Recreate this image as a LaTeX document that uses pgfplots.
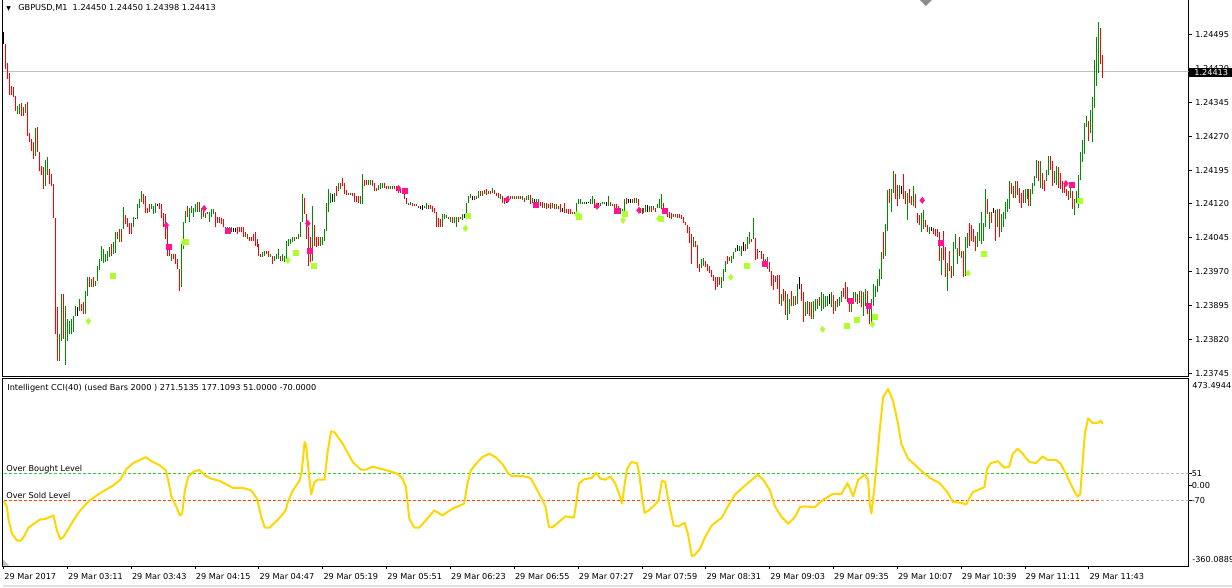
\documentclass[border=0pt]{standalone}
\usepackage{pgfplots}
\pgfplotsset{compat=1.18}
\usepackage{pgfplotstable}
\usepackage{fontspec}
\setmainfont{DejaVu Sans}
\definecolor{bargreen}{RGB}{0,140,0}
\definecolor{barred}{RGB}{255,0,0}
\definecolor{pinkm}{RGB}{255,20,147}
\definecolor{limem}{RGB}{173,255,47}
\definecolor{ccigold}{RGB}{255,215,0}
\definecolor{lvlgreen}{RGB}{50,205,50}
\definecolor{lvlred}{RGB}{255,69,0}
\definecolor{silverc}{RGB}{192,192,192}
\begin{document}
% minute bars (index = minutes after 02:39), low and high prices
\pgfplotstableread{
i lo hi
0 1.24474 1.24500
37 1.23872 1.23892
66 1.24086 1.24090
77 1.24115 1.24119
115 1.24059 1.24066
116 1.24059 1.24066
165 1.24125 1.24141
209 1.24108 1.24115
210 1.24106 1.24117
231 1.24090 1.24097
235 1.24128 1.24137
252 1.24123 1.24134
266 1.24119 1.24130
280 1.24103 1.24112
292 1.24121 1.24125
293 1.24123 1.24125
298 1.24115 1.24123
302 1.24115 1.24125
313 1.24123 1.24132
314 1.24123 1.24132
323 1.24103 1.24117
368 1.24015 1.24029
371 1.24017 1.24035
379 1.24013 1.24017
399 1.23931 1.23958
414 1.23898 1.23920
450 1.24141 1.24159
465 1.24061 1.24070
496 1.24101 1.24110
}\barsk
\pgfplotstableread{
i lo hi
7 1.24320 1.24337
8 1.24318 1.24340
11 1.24322 1.24340
16 1.24227 1.24289
21 1.24159 1.24218
22 1.24185 1.24223
28 1.23773 1.23832
29 1.23817 1.23920
31 1.23764 1.23894
32 1.23817 1.23865
33 1.23832 1.23861
34 1.23832 1.23865
35 1.23837 1.23872
36 1.23872 1.23894
38 1.23883 1.23909
41 1.23876 1.23927
42 1.23916 1.23958
44 1.23936 1.23954
46 1.23938 1.23949
47 1.23949 1.23982
48 1.23973 1.23998
49 1.23993 1.24028
50 1.23989 1.24020
51 1.23991 1.24009
52 1.23993 1.24015
53 1.24002 1.24024
55 1.24009 1.24035
56 1.24011 1.24059
58 1.24035 1.24064
60 1.24064 1.24114
65 1.24068 1.24092
67 1.24086 1.24119
68 1.24112 1.24130
69 1.24125 1.24148
74 1.24108 1.24119
75 1.24097 1.24115
76 1.24101 1.24123
84 1.23993 1.24009
89 1.23936 1.24031
90 1.24020 1.24081
91 1.24079 1.24104
93 1.24081 1.24112
94 1.24101 1.24115
95 1.24092 1.24112
96 1.24103 1.24119
97 1.24103 1.24125
99 1.24086 1.24112
101 1.24090 1.24101
103 1.24081 1.24103
104 1.24092 1.24108
105 1.24097 1.24108
113 1.24059 1.24068
114 1.24059 1.24070
122 1.24042 1.24053
130 1.24002 1.24013
131 1.24004 1.24015
134 1.24002 1.24009
136 1.23993 1.24004
137 1.23998 1.24009
138 1.23998 1.24020
140 1.23993 1.24009
141 1.23991 1.24004
142 1.23993 1.24037
143 1.24026 1.24042
144 1.24031 1.24042
145 1.24035 1.24046
146 1.24037 1.24048
148 1.24042 1.24053
149 1.24046 1.24081
150 1.24081 1.24141
155 1.23993 1.24115
159 1.24026 1.24048
160 1.24029 1.24048
161 1.24037 1.24064
162 1.24061 1.24123
163 1.24103 1.24154
164 1.24123 1.24145
166 1.24125 1.24145
168 1.24148 1.24167
173 1.24139 1.24145
179 1.24121 1.24137
180 1.24119 1.24187
183 1.24163 1.24174
184 1.24163 1.24174
188 1.24150 1.24163
189 1.24152 1.24167
190 1.24156 1.24167
193 1.24152 1.24159
194 1.24152 1.24159
196 1.24152 1.24159
203 1.24117 1.24123
204 1.24117 1.24125
207 1.24115 1.24119
211 1.24110 1.24115
212 1.24108 1.24123
220 1.24070 1.24097
221 1.24086 1.24097
222 1.24088 1.24095
224 1.24081 1.24092
226 1.24079 1.24092
227 1.24068 1.24092
229 1.24086 1.24092
230 1.24084 1.24097
232 1.24090 1.24123
233 1.24123 1.24137
234 1.24134 1.24141
237 1.24130 1.24137
238 1.24134 1.24148
240 1.24137 1.24148
243 1.24141 1.24148
245 1.24145 1.24156
249 1.24132 1.24141
253 1.24125 1.24137
255 1.24130 1.24137
257 1.24132 1.24137
260 1.24128 1.24137
262 1.24128 1.24137
263 1.24128 1.24139
265 1.24123 1.24134
267 1.24115 1.24130
271 1.24110 1.24123
275 1.24112 1.24123
277 1.24108 1.24119
286 1.24097 1.24103
287 1.24097 1.24123
288 1.24119 1.24130
289 1.24119 1.24130
290 1.24119 1.24125
291 1.24119 1.24125
294 1.24121 1.24130
295 1.24121 1.24137
299 1.24115 1.24123
300 1.24119 1.24125
301 1.24121 1.24125
303 1.24115 1.24137
305 1.24115 1.24121
309 1.24097 1.24112
310 1.24101 1.24108
311 1.24097 1.24130
315 1.24123 1.24130
317 1.24123 1.24134
321 1.24099 1.24110
322 1.24103 1.24117
324 1.24103 1.24115
326 1.24106 1.24115
328 1.24110 1.24119
329 1.24112 1.24130
330 1.24108 1.24141
337 1.24092 1.24097
346 1.24024 1.24048
350 1.23978 1.23998
351 1.23982 1.24000
360 1.23934 1.23958
361 1.23949 1.23976
362 1.23969 1.23993
365 1.23989 1.24004
366 1.23998 1.24013
367 1.24013 1.24022
369 1.24015 1.24026
370 1.24006 1.24026
373 1.24020 1.24046
374 1.24031 1.24057
376 1.24042 1.24090
383 1.23976 1.24002
390 1.23894 1.23920
393 1.23863 1.23920
394 1.23876 1.23909
396 1.23894 1.23916
398 1.23898 1.23942
402 1.23872 1.23903
403 1.23876 1.23905
406 1.23865 1.23905
407 1.23883 1.23909
408 1.23887 1.23909
410 1.23883 1.23925
411 1.23887 1.23920
412 1.23892 1.23916
413 1.23894 1.23916
415 1.23892 1.23925
417 1.23883 1.23905
419 1.23894 1.23914
420 1.23903 1.23927
425 1.23881 1.23905
426 1.23898 1.23925
427 1.23903 1.23925
429 1.23900 1.23927
431 1.23872 1.23925
432 1.23894 1.23931
435 1.23854 1.23909
436 1.23894 1.23942
437 1.23914 1.23938
438 1.23925 1.23953
439 1.23938 1.23976
440 1.23953 1.24013
442 1.24006 1.24075
443 1.24061 1.24152
445 1.24103 1.24152
446 1.24145 1.24192
449 1.24132 1.24161
453 1.24084 1.24145
456 1.24115 1.24159
460 1.24057 1.24099
461 1.24064 1.24106
464 1.24053 1.24068
470 1.23962 1.24022
473 1.23927 1.23989
476 1.23960 1.24035
477 1.24020 1.24053
478 1.23987 1.24022
480 1.24000 1.24017
482 1.23960 1.24048
483 1.24022 1.24055
488 1.24024 1.24059
489 1.24037 1.24077
490 1.24031 1.24103
491 1.24037 1.24077
492 1.24068 1.24152
494 1.24064 1.24103
498 1.24070 1.24108
500 1.24059 1.24097
501 1.24068 1.24103
502 1.24086 1.24125
503 1.24103 1.24130
504 1.24108 1.24170
507 1.24134 1.24170
512 1.24123 1.24154
513 1.24130 1.24154
515 1.24115 1.24154
516 1.24141 1.24167
517 1.24159 1.24181
518 1.24178 1.24218
520 1.24156 1.24214
523 1.24170 1.24196
524 1.24185 1.24225
527 1.24167 1.24192
528 1.24163 1.24205
535 1.24134 1.24156
537 1.24095 1.24130
538 1.24123 1.24148
539 1.24110 1.24183
540 1.24174 1.24234
541 1.24212 1.24262
542 1.24231 1.24300
543 1.24291 1.24315
545 1.24276 1.24328
546 1.24256 1.24357
547 1.24333 1.24439
548 1.24381 1.24490
549 1.24410 1.24523
}\barsg
\pgfplotstableread{
i lo hi
1 1.24419 1.24474
2 1.24397 1.24432
3 1.24362 1.24410
4 1.24362 1.24381
5 1.24357 1.24379
6 1.24326 1.24359
9 1.24315 1.24344
10 1.24315 1.24335
12 1.24271 1.24346
13 1.24256 1.24276
14 1.24238 1.24264
15 1.24220 1.24256
17 1.24234 1.24291
18 1.24192 1.24236
19 1.24185 1.24203
20 1.24152 1.24201
23 1.24165 1.24198
24 1.24159 1.24187
25 1.24088 1.24165
26 1.23832 1.24090
27 1.23773 1.23892
30 1.23821 1.23920
39 1.23883 1.23898
40 1.23876 1.23903
43 1.23936 1.23958
45 1.23936 1.23958
54 1.24004 1.24031
57 1.24042 1.24059
59 1.24035 1.24064
61 1.24075 1.24095
62 1.24068 1.24088
63 1.24053 1.24079
64 1.24053 1.24079
70 1.24119 1.24141
71 1.24101 1.24137
72 1.24101 1.24112
73 1.24103 1.24119
78 1.24108 1.24123
79 1.24090 1.24119
80 1.24070 1.24101
81 1.24042 1.24097
82 1.24004 1.24070
83 1.24004 1.24031
85 1.23998 1.24009
86 1.23987 1.24009
87 1.23976 1.23998
88 1.23927 1.23976
92 1.24092 1.24115
98 1.24103 1.24125
100 1.24092 1.24112
102 1.24097 1.24103
106 1.24068 1.24103
107 1.24079 1.24092
108 1.24079 1.24092
109 1.24075 1.24088
110 1.24070 1.24086
111 1.24057 1.24070
112 1.24057 1.24068
117 1.24053 1.24068
118 1.24057 1.24068
119 1.24057 1.24068
120 1.24048 1.24068
121 1.24046 1.24057
123 1.24037 1.24048
124 1.24037 1.24048
125 1.24037 1.24053
126 1.24026 1.24057
127 1.24024 1.24042
128 1.24004 1.24031
129 1.24002 1.24009
132 1.24009 1.24015
133 1.24002 1.24015
135 1.23987 1.24004
139 1.23993 1.24004
147 1.24042 1.24048
151 1.24097 1.24134
152 1.24042 1.24097
153 1.23982 1.24070
154 1.23991 1.24046
156 1.24026 1.24073
157 1.24024 1.24048
158 1.24026 1.24048
167 1.24137 1.24159
169 1.24152 1.24167
170 1.24159 1.24178
171 1.24141 1.24167
172 1.24139 1.24152
174 1.24139 1.24145
175 1.24137 1.24145
176 1.24125 1.24145
177 1.24125 1.24137
178 1.24123 1.24137
181 1.24159 1.24174
182 1.24163 1.24174
185 1.24159 1.24174
186 1.24148 1.24167
187 1.24148 1.24156
191 1.24156 1.24167
192 1.24152 1.24159
195 1.24152 1.24159
197 1.24148 1.24159
198 1.24145 1.24156
199 1.24145 1.24156
200 1.24145 1.24154
201 1.24130 1.24148
202 1.24119 1.24134
205 1.24115 1.24123
206 1.24115 1.24119
208 1.24110 1.24115
213 1.24108 1.24117
214 1.24108 1.24117
215 1.24103 1.24115
216 1.24099 1.24110
217 1.24070 1.24103
218 1.24070 1.24088
219 1.24070 1.24086
223 1.24086 1.24092
225 1.24079 1.24092
228 1.24081 1.24092
236 1.24128 1.24137
239 1.24137 1.24148
241 1.24141 1.24152
242 1.24139 1.24154
244 1.24141 1.24148
246 1.24141 1.24152
247 1.24137 1.24145
248 1.24134 1.24145
250 1.24123 1.24137
251 1.24121 1.24134
254 1.24130 1.24137
256 1.24130 1.24137
258 1.24130 1.24137
259 1.24130 1.24137
261 1.24125 1.24134
264 1.24119 1.24139
268 1.24115 1.24130
269 1.24115 1.24125
270 1.24112 1.24125
272 1.24108 1.24123
273 1.24110 1.24121
274 1.24108 1.24123
276 1.24108 1.24119
278 1.24108 1.24115
279 1.24103 1.24119
281 1.24101 1.24123
282 1.24099 1.24108
283 1.24097 1.24108
284 1.24097 1.24108
285 1.24097 1.24103
296 1.24112 1.24130
297 1.24115 1.24123
304 1.24115 1.24125
306 1.24112 1.24119
307 1.24110 1.24119
308 1.24101 1.24115
312 1.24119 1.24134
316 1.24123 1.24134
318 1.24115 1.24130
319 1.24101 1.24112
320 1.24097 1.24112
325 1.24103 1.24115
327 1.24103 1.24112
331 1.24097 1.24123
332 1.24101 1.24112
333 1.24092 1.24110
334 1.24090 1.24103
335 1.24086 1.24101
336 1.24092 1.24097
338 1.24090 1.24097
339 1.24090 1.24097
340 1.24086 1.24095
341 1.24079 1.24092
342 1.24073 1.24081
343 1.24055 1.24073
344 1.24033 1.24068
345 1.23987 1.24053
347 1.24024 1.24039
348 1.23978 1.24029
349 1.23969 1.23987
352 1.23980 1.23993
353 1.23971 1.23987
354 1.23967 1.23982
355 1.23958 1.23973
356 1.23949 1.23962
357 1.23929 1.23958
358 1.23936 1.23958
359 1.23940 1.23958
363 1.23987 1.24004
364 1.23993 1.24002
372 1.24015 1.24031
375 1.24035 1.24042
377 1.23995 1.24044
378 1.23998 1.24020
380 1.23998 1.24015
381 1.23991 1.24009
382 1.23980 1.23998
384 1.23969 1.23991
385 1.23938 1.23971
386 1.23929 1.23964
387 1.23947 1.23960
388 1.23931 1.23964
389 1.23898 1.23964
391 1.23905 1.23931
392 1.23874 1.23927
395 1.23894 1.23927
397 1.23896 1.23916
400 1.23905 1.23942
401 1.23859 1.23925
404 1.23872 1.23903
405 1.23865 1.23903
409 1.23894 1.23914
416 1.23876 1.23918
418 1.23892 1.23909
421 1.23914 1.23934
422 1.23909 1.23947
423 1.23903 1.23936
424 1.23881 1.23912
428 1.23898 1.23920
430 1.23892 1.23927
433 1.23876 1.23927
434 1.23854 1.23900
441 1.23998 1.24057
444 1.24123 1.24154
447 1.24130 1.24187
448 1.24115 1.24161
451 1.24132 1.24187
452 1.24119 1.24148
454 1.24123 1.24154
455 1.24117 1.24137
457 1.24110 1.24143
458 1.24079 1.24101
459 1.24073 1.24095
462 1.24070 1.24084
463 1.24057 1.24073
466 1.24053 1.24066
467 1.24050 1.24064
468 1.24048 1.24064
469 1.23993 1.24057
471 1.23995 1.24061
472 1.23958 1.24024
474 1.23971 1.24017
475 1.23956 1.23982
479 1.24004 1.24048
481 1.23958 1.24017
484 1.24026 1.24077
485 1.24039 1.24073
486 1.24035 1.24064
487 1.24015 1.24050
493 1.24097 1.24130
495 1.24079 1.24103
497 1.24039 1.24106
499 1.24046 1.24108
505 1.24141 1.24167
506 1.24134 1.24159
508 1.24139 1.24170
509 1.24123 1.24156
510 1.24112 1.24145
511 1.24123 1.24152
514 1.24115 1.24154
519 1.24170 1.24214
521 1.24152 1.24189
522 1.24148 1.24174
525 1.24196 1.24225
526 1.24159 1.24214
529 1.24156 1.24201
530 1.24152 1.24189
531 1.24145 1.24170
532 1.24145 1.24163
533 1.24137 1.24152
534 1.24128 1.24148
536 1.24108 1.24148
544 1.24260 1.24304
550 1.24430 1.24509
551 1.24398 1.24450
}\barsr
\pgfplotstableread{
m v
0 -71
1.65 -98
2.5 -157
4.15 -216
6.65 -246
8.35 -248
10 -231
12.5 -189
15.85 -168
18.35 -153
20.85 -151
25 -135
26.65 -201
28.35 -241
30 -231
32.5 -194
35 -157
38.35 -113
42.5 -73
46.65 -46
50 -27
55 -2
58.35 23
61.65 72
65 98
68.35 112
71.35 124
74.15 106
78.35 87
81.35 65
82.5 20
84.15 -53
86.65 -98
88.35 -135
89.5 -127
90.85 -24
92.5 35
95 58
98 68
100.85 43
104.15 28
108.35 18
115 -13
120 -13
124.15 -24
127 -61
129.15 -142
130.85 -189
133.35 -189
137.5 -154
141.35 -113
142.5 -75
145 -24
148.35 20
149.5 65
150.85 191
151.65 176
153 50
154.15 -42
155.85 13
157.5 24
160.85 24
162.5 153
164.15 239
165.85 235
170 183
175 102
179.15 68
181.65 68
185 82
188.35 74
193.35 62
197.5 50
200 28
201.65 -9
203.35 -149
205.85 -189
208.35 -189
211.65 -157
215.85 -113
220 -135
225 -105
230.85 -83
232.5 6
234.15 65
237.5 102
240 124
243.35 139
246.65 124
250 94
253 50
255 40
260 40
264.15 32
266.65 -9
270 -65
271.65 -98
273.35 -186
275 -189
278.35 -164
281.65 -139
285.85 -145
287 -83
288.35 6
290.85 25
295 32
297 55
299.15 28
301.65 24
304.15 38
306.65 6
309.15 -56
310 -83
311.35 6
312.5 72
314.65 102
317.5 98
318.65 50
320 -53
321.35 -124
323.35 -113
326.65 -86
328.35 -68
330 20
331.65 13
333.35 -75
335.85 -179
338.35 -184
341.35 -167
343 -216
345 -317
346.65 -309
349.15 -282
351.65 -231
355 -179
360 -145
363.35 -90
366.65 -42
371.65 -2
375 23
378 46
380.85 23
384.15 -24
386.65 -95
390 -142
393.35 -172
396.65 -142
399.15 -98
401.65 -95
406.65 -98
410.85 -65
415.85 -39
420 -39
423 9
424.65 -24
425.85 -51
428.35 23
431.65 47
433.35 23
434.15 -83
435 -127
436.35 -24
437.5 80
439.15 242
440.85 390
443.35 427
445.85 375
448.35 272
450 183
453.35 117
456.65 91
461.65 50
465 28
469.15 9
473.35 -35
475.85 -75
479.15 -78
482.5 -86
485.85 -31
490 -16
491.65 -9
493 72
495 98
498.35 106
501.65 77
504.15 82
505.85 139
508.35 161
510.85 139
514.15 102
517.5 98
520.85 127
523.35 112
527.5 112
530 94
533.35 35
536.65 -27
538.35 -51
539.65 -42
540.85 94
542 227
543.65 297
545.85 276
548.35 276
550 286
551 271.5
}\cci
\pgfplotsset{
  pricey/.style={y filter/.expression={(y-1.24)*10000}},
  barplot/.style={#1, line width=1bp, no markers, forget plot,
    quiver={u=0, v={(\thisrow{hi}-\thisrow{lo})*10000}}},
}
\begin{tikzpicture}[x=1bp, y=1bp, font=\fontsize{8.2bp}{9.8bp}\selectfont]
\fill[white] (0,0) rectangle (1232,589);
\fill[black!12] (0,0) rectangle (1232,2);
% ---------------- price panel ----------------
\begin{axis}[
  disabledatascaling,
  at={(-0.5bp,211.5bp)}, anchor=south west, scale only axis,
  width=1189bp, height=378.5bp,
  xmin=-0.5, xmax=594, ymin=-26.16, ymax=57.33,
  axis line style={line width=1bp, black},
  xtick=\empty,
  ytick={-25.5,-18,-10.5,-3,4.5,12,19.5,27,34.5,42,49.5},
  yticklabels={1.23745,1.23820,1.23895,1.23970,1.24045,1.24120,1.24195,1.24270,1.24345,1.24420,1.24495},
  ytick pos=right, yticklabel pos=right,
  tick align=outside, major tick length=3bp,
  tick style={line width=1bp, black},
  yticklabel style={anchor=west, inner sep=0pt, xshift=3.5bp},
]
\addplot[silverc, line width=1bp, forget plot, pricey] coordinates {(-0.5,1.24413) (594,1.24413)};
\addplot[barplot=bargreen] table[x=i, y expr={(\thisrow{lo}-1.24)*10000}] {\barsg};
\addplot[barplot=barred] table[x=i, y expr={(\thisrow{lo}-1.24)*10000}] {\barsr};
\addplot[barplot=black] table[x=i, y expr={(\thisrow{lo}-1.24)*10000}] {\barsk};
% signal markers
\addplot[only marks, mark=diamond*, mark size=3.2bp, color=pinkm, pricey] coordinates {
(81.5,1.24073) (100.5,1.24110) (152.5,1.24077) (198,1.24154) (252.5,1.24130)
(297.5,1.24115) (318.5,1.24106) (460.5,1.24128) (532.5,1.24165)};
\addplot[only marks, mark=square*, mark size=2.5bp, color=pinkm, pricey] coordinates {
(82.5,1.24026) (112.5,1.24061) (153.5,1.24017) (201,1.24150) (266.5,1.24119)
(307.5,1.24106) (331.5,1.24106) (381.5,1.23987) (424.5,1.23907) (433.5,1.23896)
(469.5,1.24035) (535.5,1.24163)};
\addplot[only marks, mark=diamond*, mark size=3.2bp, color=limem, pricey] coordinates {
(42.5,1.23861) (90,1.24035) (142.5,1.23995) (231.5,1.24066) (287.5,1.24097)
(310.5,1.24084) (328.5,1.24088) (364.5,1.23958) (410.5,1.23843) (435.5,1.23854)
(483.5,1.23967)};
\addplot[only marks, mark=square*, mark size=2.5bp, color=limem, pricey] coordinates {
(54.5,1.23962) (91.5,1.24037) (146.5,1.24013) (155.5,1.23984) (232.5,1.24095)
(288.5,1.24092) (311.5,1.24099) (329.5,1.24088) (372.5,1.23984) (422.5,1.23850)
(427.5,1.23865) (436.5,1.23870) (491.5,1.24009) (539.5,1.24128)};
\end{axis}
% ---------------- CCI panel ----------------
\begin{axis}[
  disabledatascaling,
  at={(-0.5bp,21.5bp)}, anchor=south west, scale only axis,
  width=1189bp, height=188bp,
  xmin=-0.5, xmax=594, ymin=-360.0889, ymax=473.4944,
  axis line style={line width=1bp, black},
  xtick={0,32,...,544},
  xticklabels={29 Mar 2017,29 Mar 03:11,29 Mar 03:43,29 Mar 04:15,29 Mar 04:47,29 Mar 05:19,29 Mar 05:51,29 Mar 06:23,29 Mar 06:55,29 Mar 07:27,29 Mar 07:59,29 Mar 08:31,29 Mar 09:03,29 Mar 09:35,29 Mar 10:07,29 Mar 10:39,29 Mar 11:11,29 Mar 11:43},
  xtick pos=bottom, ytick pos=right, yticklabel pos=right,
  xticklabel style={anchor=north west, inner sep=0pt, xshift=0.5bp, yshift=-4bp},
  ytick={-70,0,51}, yticklabels={-70,0.00,51},
  yticklabel style={anchor=west, inner sep=0pt},
  tick align=outside, major tick length=3bp,
  tick style={line width=1bp, black},
]
\addplot[lvlgreen, line width=1bp, dash pattern=on 3bp off 2bp, forget plot] coordinates {(0,51) (550,51)};
\addplot[silverc, line width=1bp, dash pattern=on 3bp off 2bp, forget plot] coordinates {(550,51) (594,51)};
\addplot[lvlred, line width=1bp, dash pattern=on 3bp off 2bp, forget plot] coordinates {(0,-70) (550,-70)};
\addplot[silverc, line width=1bp, dash pattern=on 3bp off 2bp, forget plot] coordinates {(550,-70) (594,-70)};
\addplot[ccigold, line width=2bp, line join=round, forget plot] table[x=m, y=v] {\cci};
\end{axis}
% ---------------- texts and decorations ----------------
\node[anchor=base west, inner sep=0pt] at (3,578.5) {{\fontsize{6bp}{6bp}\selectfont ▼}};
\node[anchor=base west, inner sep=0pt] at (15,578.5) {GBPUSD,M1\ \ 1.24450 1.24450 1.24398 1.24413};
\fill[black] (1189,511.3) rectangle (1232,521.3);
\node[anchor=west, inner sep=0pt, text=white] at (1194,516.3) {1.24413};
\fill[black!45] (919,589) -- (931,589) -- (925,583) -- cycle;
\node[anchor=base west, inner sep=0pt] at (4,197) {Intelligent CCI(40) (used Bars 2000 ) 271.5135 177.1093 51.0000 -70.0000};
\node[anchor=base west, inner sep=0pt] at (3,116.3) {Over Bought Level};
\node[anchor=base west, inner sep=0pt] at (3,89) {Over Sold Level};
\node[anchor=west, inner sep=0pt] at (1192,202) {473.4944};
\node[anchor=west, inner sep=0pt] at (1192,28) {-360.0889};
\fill[black!25] (0,22) -- (0,28) -- (6,22) -- cycle;
% fix the page to exactly 1232 x 589
\pgfresetboundingbox
\useasboundingbox (0,0) rectangle (1232,589);
\end{tikzpicture}
\end{document}
